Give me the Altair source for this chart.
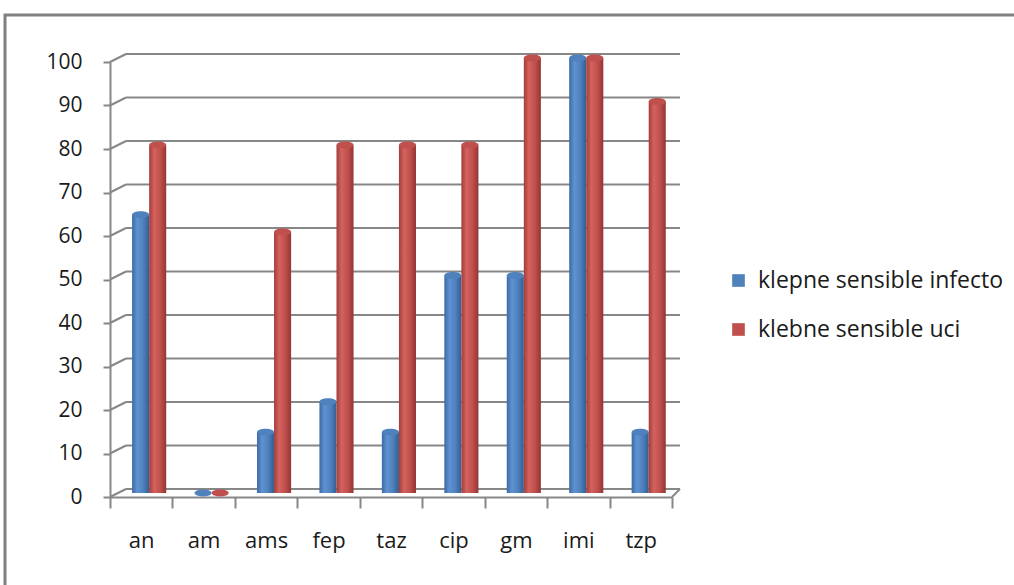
import altair as alt
import pandas as pd

categories = ["an", "am", "ams", "fep", "taz", "cip", "gm", "imi", "tzp"]
series_names = ["klepne sensible infecto", "klebne sensible uci"]
infecto = [64, 0, 14, 21, 14, 50, 50, 100, 14]
uci = [80, 0, 60, 80, 80, 80, 100, 100, 90]
y_ticks = [0, 10, 20, 30, 40, 50, 60, 70, 80, 90, 100]

rows = []
for c, a, b in zip(categories, infecto, uci):
    rows.append({"cat": c, "series": series_names[0], "value": a})
    rows.append({"cat": c, "series": series_names[1], "value": b})
df = pd.DataFrame(rows)
grid = pd.DataFrame({"v": y_ticks})

FONT = "Open Sans"
GRID = "#878787"
DX, DY = 16, -8

x_scale = alt.Scale(domain=categories, paddingInner=0, paddingOuter=0)
y_scale = alt.Scale(domain=[0, 100])
off_scale = alt.Scale(domain=series_names, paddingInner=0, paddingOuter=0.83, align=0.78)
color_scale = alt.Scale(domain=series_names, range=["#4f81bd", "#c0504d"])

y_axis = alt.Axis(title=None, values=y_ticks, labelFontSize=21, labelFont=FONT,
                  labelColor="#1a1a1a", domainColor=GRID, domainWidth=2,
                  tickColor=GRID, tickWidth=2, tickSize=7, labelPadding=21, grid=False)
x_axis = alt.Axis(title=None, labelAngle=0, labelFontSize=22, labelFont=FONT,
                  labelColor="#1a1a1a", domainColor=GRID, domainWidth=2,
                  tickColor=GRID, tickWidth=2, tickSize=11, tickBand="extent",
                  labelPadding=22, grid=False)

border = alt.Chart(grid).transform_filter("datum.v == 0").mark_rect(
    fill="transparent", stroke="#808080", strokeWidth=3
).encode(x=alt.value(-105), x2=alt.value(1020), y=alt.value(-47), y2=alt.value(600))

gridlines = alt.Chart(grid).mark_rule(color=GRID, strokeWidth=2, yOffset=DY).encode(
    x=alt.value(DX), x2=alt.value(570), y=alt.Y("v:Q", scale=y_scale, axis=y_axis)
)
diag = alt.Chart(grid).mark_rule(color=GRID, strokeWidth=2, y2Offset=DY).encode(
    x=alt.value(0), x2=alt.value(DX), y=alt.Y("v:Q", scale=y_scale, axis=y_axis), y2=alt.Y2("v")
)
floor_side = alt.Chart(grid).transform_filter("datum.v == 0").mark_rule(
    color=GRID, strokeWidth=2, y2Offset=DY
).encode(x=alt.value(562), x2=alt.value(562 + 8),
         y=alt.Y("v:Q", scale=y_scale, axis=y_axis), y2=alt.Y2("v"))

grads = [
    alt.Gradient(gradient="linear", x1=0, x2=1, y1=0, y2=0, stops=[
        alt.GradientStop(color="#3b6aa3", offset=0),
        alt.GradientStop(color="#5e92d2", offset=0.3),
        alt.GradientStop(color="#4f81bd", offset=0.65),
        alt.GradientStop(color="#335d93", offset=1)]),
    alt.Gradient(gradient="linear", x1=0, x2=1, y1=0, y2=0, stops=[
        alt.GradientStop(color="#a23d3a", offset=0),
        alt.GradientStop(color="#d4625e", offset=0.3),
        alt.GradientStop(color="#c0504d", offset=0.65),
        alt.GradientStop(color="#923634", offset=1)]),
]

bar_layers = []
for name, g in zip(series_names, grads):
    bar_layers.append(
        alt.Chart(df).transform_filter(alt.datum.series == name).mark_bar(
            fill=g, yOffset=-4
        ).encode(
            x=alt.X("cat:N", scale=x_scale, sort=categories, axis=x_axis),
            xOffset=alt.XOffset("series:N", scale=off_scale),
            y=alt.Y("value:Q", scale=y_scale, axis=y_axis),
        )
    )

SHAPE = "M-1,0 A1,0.4 0 1,0 1,0 A1,0.4 0 1,0 -1,0 Z"
tops = alt.Chart(df).mark_point(
    shape=SHAPE, filled=True, opacity=1, size=290, yOffset=-4
).encode(
    x=alt.X("cat:N", scale=x_scale, sort=categories, axis=x_axis),
    xOffset=alt.XOffset("series:N", scale=off_scale),
    y=alt.Y("value:Q", scale=y_scale, axis=y_axis),
    color=alt.Color("series:N", scale=color_scale, sort=series_names,
                    legend=alt.Legend(title=None, orient="none", legendX=617, legendY=207,
                                      symbolType="square", symbolSize=160, labelFontSize=23,
                                      labelFont=FONT, labelColor="#1a1a1a", rowPadding=25,
                                      labelOffset=8, symbolStrokeWidth=0, labelLimit=0)),
)

chart = alt.layer(border, gridlines, diag, floor_side, *bar_layers, tops).properties(
    width=562, height=435,
    padding={"left": 110, "top": 62, "right": 342, "bottom": 88},
    autosize=alt.AutoSizeParams(type="none"),
    background="white",
).configure_view(strokeWidth=0, stroke=None)

chart.save("out.html", embed_options={"renderer": "svg", "actions": False})
